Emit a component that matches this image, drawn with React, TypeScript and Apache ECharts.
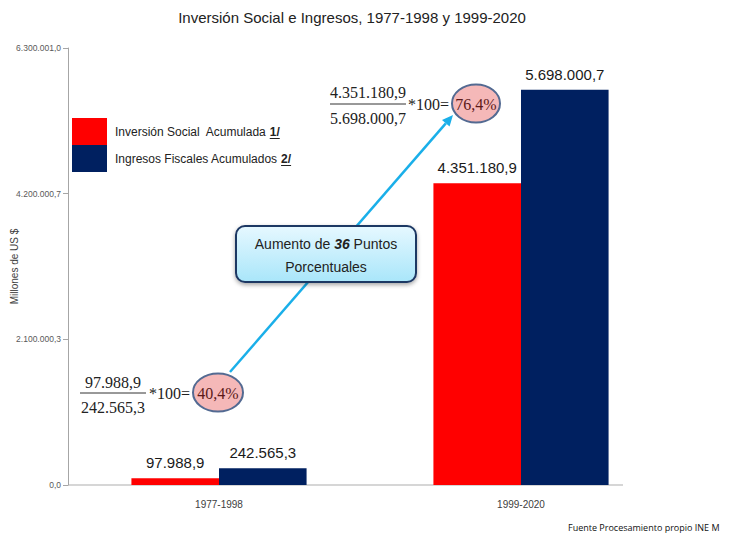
import React, { useEffect, useRef } from "react";
import * as echarts from "echarts";

const categories = ["1977-1998", "1999-2020"];
const inversionSocial = [97988.9, 4351180.9];
const ingresosFiscales = [242565.3, 5698000.7];
const seriesNames = ["Inversión Social  Acumulada", "Ingresos Fiscales Acumulados"];
const seriesNotes = ["1/", "2/"];
const yMax = 6300001;
const yInterval = yMax / 3;

const NARROW = '"Liberation Sans Narrow", "Arial Narrow", "Liberation Sans", Arial, sans-serif';
const SERIF = '"Liberation Serif", "Times New Roman", serif';
const LEGEND_FS = 12;

function fmt(v: number): string {
  const fixed = (Math.round(v * 10) / 10).toFixed(1);
  const [ip, dp] = fixed.split(".");
  const withDots = ip.replace(/\B(?=(\d{3})+(?!\d))/g, ".");
  return withDots + "," + dp;
}

function measure(text: string, font: string): number {
  const c = document.createElement("canvas").getContext("2d");
  if (!c) return text.length * 6;
  c.font = font;
  return c.measureText(text).width;
}

export default function App() {
  const ref = useRef<HTMLDivElement>(null);
  useEffect(() => {
    document.body.style.margin = "0";
    if (!ref.current) return;
    const chart = echarts.init(ref.current, undefined, { renderer: "svg" });

    const tip = [453, 115];
    const start = [230, 372];
    const dx = tip[0] - start[0];
    const dy = tip[1] - start[1];
    const len = Math.sqrt(dx * dx + dy * dy);
    const ux = dx / len, uy = dy / len;
    const base = [tip[0] - 11 * ux, tip[1] - 11 * uy];
    const nx = -uy, ny = ux;

    // legend layout values
    const legLeft = 72, legTop = 118, iconW = 35, iconH = 27;
    const textX = legLeft + iconW + 5 + 3;
    const underlines = seriesNames.map((n, i) => {
      const w1 = measure(n + " ", `normal ${LEGEND_FS}px ${NARROW}`);
      const w2 = measure(seriesNotes[i], `bold ${LEGEND_FS}px ${NARROW}`);
      const cy = legTop + iconH * i + iconH / 2;
      return {
        type: "line",
        shape: { x1: textX + w1, y1: cy + 7, x2: textX + w1 + w2, y2: cy + 7 },
        style: { stroke: "#222", lineWidth: 1 },
      };
    });

    const barLabel = {
      show: true,
      position: "top",
      distance: 8,
      fontFamily: NARROW,
      fontSize: 15,
      color: "#1a1a1a",
      formatter: (p: any) => fmt(p.value),
    };

    const option: any = {
      animation: false,
      backgroundColor: "#ffffff",
      grid: { left: 68, right: 60, top: 48, bottom: 52, outerBoundsMode: "none", containLabel: false },
      legend: {
        orient: "vertical",
        left: legLeft,
        top: legTop,
        padding: 0,
        itemWidth: iconW,
        itemHeight: iconH,
        itemGap: 0,
        icon: "rect",
        selectedMode: false,
        textStyle: {
          fontFamily: NARROW,
          fontSize: LEGEND_FS,
          color: "#222",
          padding: [0, 0, 0, 3],
          rich: { u: { fontFamily: NARROW, fontSize: LEGEND_FS, fontWeight: "bold", color: "#222" } },
        },
        formatter: (name: string) => {
          const i = seriesNames.indexOf(name);
          return name + " {u|" + seriesNotes[i] + "}";
        },
        data: seriesNames,
      },
      xAxis: {
        type: "category",
        data: categories,
        axisLine: { show: false },
        axisTick: { show: false },
        axisLabel: { fontFamily: NARROW, fontSize: 10, color: "#404040", margin: 14 },
      },
      yAxis: {
        type: "value",
        min: 0,
        max: yMax,
        interval: yInterval,
        name: "Millones de US $",
        nameLocation: "middle",
        nameGap: 49,
        nameRotate: 90,
        nameMoveOverlap: false,
        nameTextStyle: { fontFamily: NARROW, fontSize: 10, color: "#404040" },
        axisLine: { show: true, lineStyle: { color: "#A6A6A6", width: 1 } },
        axisTick: { show: true, length: 5, lineStyle: { color: "#A6A6A6" } },
        splitLine: { show: false },
        axisLabel: {
          fontFamily: NARROW,
          fontSize: 8.5,
          color: "#595959",
          margin: 7,
          formatter: (v: number) => fmt(v),
        },
      },
      series: [
        {
          name: seriesNames[0],
          type: "bar",
          data: inversionSocial,
          barGap: "0%",
          barCategoryGap: "42%",
          itemStyle: { color: "#FF0000" },
          label: barLabel,
        },
        {
          name: seriesNames[1],
          type: "bar",
          data: ingresosFiscales,
          barGap: "0%",
          barCategoryGap: "42%",
          itemStyle: { color: "#002060" },
          label: barLabel,
        },
      ],
      graphic: [
        {
          type: "text",
          x: 352,
          y: 17,
          style: {
            text: "Inversión Social e Ingresos, 1977-1998 y 1999-2020",
            fontFamily: NARROW,
            fontSize: 15,
            fill: "#222",
            align: "center",
            verticalAlign: "middle",
          },
        },
        // x axis baseline
        { type: "line", shape: { x1: 68, y1: 485, x2: 623, y2: 485 }, style: { stroke: "#C8C8C8", lineWidth: 1.5 } },
        ...underlines,
        // arrow
        {
          type: "line",
          z: 10,
          shape: { x1: start[0], y1: start[1], x2: base[0], y2: base[1] },
          style: { stroke: "#1AAFE9", lineWidth: 2.5 },
        },
        {
          type: "polygon",
          z: 10,
          shape: {
            points: [
              [tip[0], tip[1]],
              [base[0] + 5 * nx, base[1] + 5 * ny],
              [base[0] - 5 * nx, base[1] - 5 * ny],
            ],
          },
          style: { fill: "#1AAFE9" },
        },
        // callout
        {
          type: "rect",
          z: 20,
          shape: { x: 236, y: 226, width: 180, height: 56, r: 9 },
          style: {
            fill: new echarts.graphic.LinearGradient(0, 0, 0, 1, [
              { offset: 0, color: "#E6F8FF" },
              { offset: 1, color: "#A9E6FA" },
            ]),
            stroke: "#1F3864",
            lineWidth: 2,
            shadowBlur: 4,
            shadowOffsetY: 2,
            shadowColor: "rgba(0,0,0,0.35)",
          },
        },
        {
          type: "text",
          z: 21,
          x: 326,
          y: 255,
          style: {
            text: "Aumento de {b|36} Puntos\nPorcentuales",
            fontFamily: NARROW,
            fontSize: 14,
            lineHeight: 23,
            fill: "#222",
            align: "center",
            verticalAlign: "middle",
            rich: {
              b: { fontFamily: NARROW, fontSize: 14, fontWeight: "bold", fontStyle: "italic", fill: "#222", lineHeight: 23 },
            },
          },
        },
        // top formula
        { type: "text", z: 15, x: 368, y: 92, style: { text: "4.351.180,9", fontFamily: SERIF, fontSize: 16, fill: "#222", align: "center", verticalAlign: "middle" } },
        { type: "line", z: 15, shape: { x1: 330, y1: 104, x2: 406, y2: 104 }, style: { stroke: "#333", lineWidth: 1 } },
        { type: "text", z: 15, x: 368, y: 118, style: { text: "5.698.000,7", fontFamily: SERIF, fontSize: 16, fill: "#222", align: "center", verticalAlign: "middle" } },
        { type: "text", z: 15, x: 408, y: 104, style: { text: "*100=", fontFamily: SERIF, fontSize: 16, fill: "#222", align: "left", verticalAlign: "middle" } },
        { type: "ellipse", z: 15, shape: { cx: 476, cy: 103.5, rx: 24, ry: 19 }, style: { fill: "#F5B8B8", stroke: "#536A92", lineWidth: 2 } },
        { type: "text", z: 16, x: 476, y: 104, style: { text: "76,4%", fontFamily: SERIF, fontSize: 16, fill: "#5C1A1A", align: "center", verticalAlign: "middle" } },
        // bottom formula
        { type: "text", z: 15, x: 113, y: 382, style: { text: "97.988,9", fontFamily: SERIF, fontSize: 16, fill: "#222", align: "center", verticalAlign: "middle" } },
        { type: "line", z: 15, shape: { x1: 80, y1: 393, x2: 146, y2: 393 }, style: { stroke: "#333", lineWidth: 1 } },
        { type: "text", z: 15, x: 113, y: 407, style: { text: "242.565,3", fontFamily: SERIF, fontSize: 16, fill: "#222", align: "center", verticalAlign: "middle" } },
        { type: "text", z: 15, x: 149, y: 393, style: { text: "*100=", fontFamily: SERIF, fontSize: 16, fill: "#222", align: "left", verticalAlign: "middle" } },
        { type: "ellipse", z: 15, shape: { cx: 218, cy: 392.5, rx: 25, ry: 19 }, style: { fill: "#F5B8B8", stroke: "#536A92", lineWidth: 2 } },
        { type: "text", z: 16, x: 218, y: 393, style: { text: "40,4%", fontFamily: SERIF, fontSize: 16, fill: "#5C1A1A", align: "center", verticalAlign: "middle" } },
        // footer
        {
          type: "text",
          x: 568,
          y: 527,
          style: {
            text: "Fuente Procesamiento propio INE M",
            fontFamily: '"Open Sans", "Noto Sans", sans-serif',
            fontSize: 9,
            fill: "#111",
            align: "left",
            verticalAlign: "middle",
          },
        },
      ],
    };
    chart.setOption(option);
    return () => chart.dispose();
  }, []);
  return <div ref={ref} style={{ width: 732, height: 537 }} />;
}
